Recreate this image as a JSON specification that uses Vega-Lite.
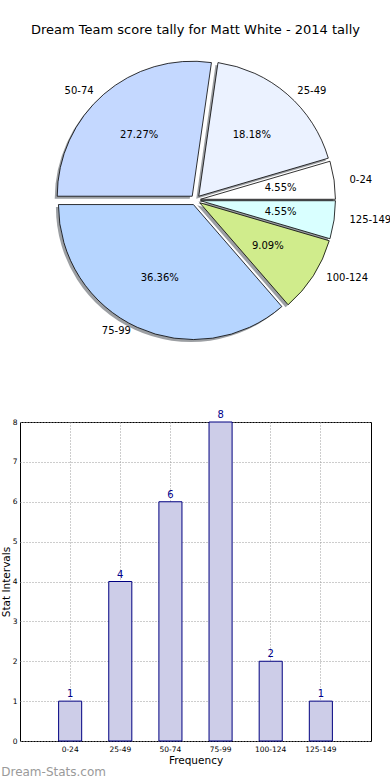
{
  "$schema": "https://vega.github.io/schema/vega-lite/v6.json",
  "padding": {"left": 0, "top": 24, "right": 0, "bottom": 0},
  "bounds": "flush",
  "spacing": 72,
  "resolve": {"scale": {"theta": "shared", "color": "shared"}},
  "config": {
    "font": "DejaVu Sans",
    "view": {"stroke": null},
    "axis": {
      "grid": true,
      "gridDash": [1, 2],
      "gridColor": "#9a9a9a",
      "gridWidth": 1,
      "domain": false,
      "ticks": false,
      "labelFontSize": 7.5,
      "labelColor": "#000",
      "titleFontSize": 10.5,
      "titleFontWeight": "normal",
      "titleColor": "#000",
      "zindex": 1
    }
  },
  "datasets": {
    "tally": [
      {"range": "0-24", "n": 1, "pct": "4.55%", "i": 1},
      {"range": "25-49", "n": 4, "pct": "18.18%", "i": 2},
      {"range": "50-74", "n": 6, "pct": "27.27%", "i": 3},
      {"range": "75-99", "n": 8, "pct": "36.36%", "i": 4},
      {"range": "100-124", "n": 2, "pct": "9.09%", "i": 5},
      {"range": "125-149", "n": 1, "pct": "4.55%", "i": 6}
    ]
  },
  "vconcat": [
    {
      "width": 351,
      "height": 300,
      "title": {"text": "Dream Team score tally for Matt White - 2014 tally", "fontSize": 13, "fontWeight": "normal", "offset": 13, "color": "#000"},
      "data": {"name": "tally"},
      "encoding": {
        "theta": {"field": "n", "type": "quantitative", "stack": true, "scale": {"range": [1.5708, -4.7124]}},
        "order": {"field": "i", "type": "quantitative"}
      },
      "layer": [
        {
          "mark": {
            "type": "arc",
            "outerRadius": 135,
            "fill": "#3a4048",
            "opacity": 0.5,
            "x": {"expr": "175.5 + 5*sin(scale('theta', 0.5*datum.n_start + 0.5*datum.n_end)) - 2.5"},
            "y": {"expr": "150 - 5*cos(scale('theta', 0.5*datum.n_start + 0.5*datum.n_end)) + 2.5"}
          }
        },
        {
          "mark": {
            "type": "arc",
            "outerRadius": 135,
            "stroke": "#000",
            "strokeWidth": 0.8,
            "opacity": 1,
            "x": {"expr": "175.5 + 5*sin(scale('theta', 0.5*datum.n_start + 0.5*datum.n_end))"},
            "y": {"expr": "150 - 5*cos(scale('theta', 0.5*datum.n_start + 0.5*datum.n_end))"}
          },
          "encoding": {
            "color": {
              "field": "range",
              "type": "nominal",
              "scale": {
                "domain": ["0-24", "25-49", "50-74", "75-99", "100-124", "125-149"],
                "range": ["#ffffff", "#ebf2ff", "#c4d8ff", "#b6d5ff", "#d0ec8c", "#d9ffff"]
              },
              "legend": null
            }
          }
        },
        {
          "mark": {"type": "text", "radius": 86, "fontSize": 10, "color": "#000"},
          "encoding": {"text": {"field": "pct"}}
        },
        {
          "mark": {
            "type": "text",
            "radius": 153,
            "fontSize": 10,
            "color": "#000",
            "baseline": "middle",
            "dx": {"expr": "2.5*sin(scale('theta', 0.5*datum.n_start + 0.5*datum.n_end))"},
            "dy": {"expr": "9*cos(scale('theta', 0.5*datum.n_start + 0.5*datum.n_end))"},
            "align": {"expr": "sin(scale('theta', 0.5*datum.n_start + 0.5*datum.n_end)) > 0 ? 'left' : 'right'"}
          },
          "encoding": {"text": {"field": "range"}}
        }
      ]
    },
    {
      "width": 351,
      "height": 319,
      "view": {"stroke": "#000", "strokeWidth": 1},
      "title": {"text": "Dream-Stats.com", "orient": "bottom", "anchor": "start", "frame": "bounds", "fontSize": 12, "fontWeight": "normal", "color": "#9a9a9a", "offset": 1},
      "data": {"name": "tally"},
      "encoding": {
        "x": {
          "field": "range",
          "type": "nominal",
          "sort": ["0-24", "25-49", "50-74", "75-99", "100-124", "125-149"],
          "scale": {"paddingInner": 0.54, "paddingOuter": 0.77},
          "axis": {"title": "Frequency", "labelAngle": 0, "bandPosition": 0.5, "labelPadding": 4, "titlePadding": 3}
        },
        "y": {
          "field": "n",
          "type": "quantitative",
          "scale": {"domain": [0, 8]},
          "axis": {"title": "Stat Intervals", "values": [0, 1, 2, 3, 4, 5, 6, 7, 8], "labelPadding": 3, "titlePadding": 1}
        }
      },
      "layer": [
        {"mark": {"type": "bar", "fill": "#cdcde8", "stroke": "#000080", "strokeWidth": 1}},
        {
          "mark": {"type": "text", "baseline": "bottom", "dy": -2, "fontSize": 10, "color": "#00008b"},
          "encoding": {"text": {"field": "n"}}
        }
      ]
    }
  ]
}
